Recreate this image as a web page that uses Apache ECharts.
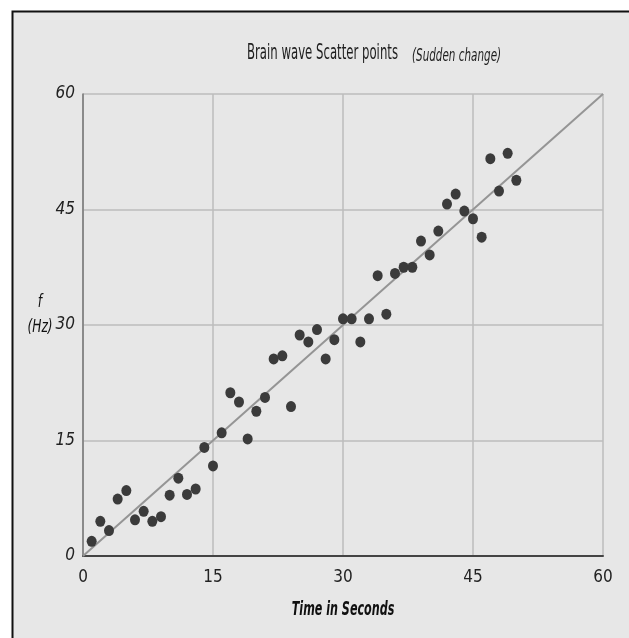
<!DOCTYPE html>
<html><head><meta charset="utf-8">
<script src="https://cdn.jsdelivr.net/npm/echarts@6/dist/echarts.min.js"></script>
<style>html,body{margin:0;padding:0;background:#fff}#c{width:629px;height:638px}</style>
</head><body><div id="c"></div>
<script>
const times = [1,2,3,4,5,6,7,8,9,10,11,12,13,14,15,16,17,18,19,20,21,22,23,24,25,26,27,28,29,30,31,32,33,34,35,36,37,38,39,40,41,42,43,44,45,46,47,48,49,50];
const freqs = [1.9,4.5,3.3,7.4,8.5,4.7,5.8,4.5,5.1,7.9,10.1,8.0,8.7,14.1,11.7,16.0,21.2,20.0,15.2,18.8,20.6,25.6,26.0,19.4,28.7,27.8,29.4,25.6,28.1,30.8,30.8,27.8,30.8,36.4,31.4,36.7,37.5,37.5,40.9,39.1,42.2,45.7,47.0,44.8,43.8,41.4,51.6,47.4,52.3,48.8];
const trendX = [0,60];
const trendY = [0,60];
const xTicks = [0,15,30,45,60];
const yTicks = [0,15,30,45,60];
const titleMain = 'Brain wave Scatter points';
const titleSub = '(Sudden change)';
const xName = 'Time in Seconds';
const yName = 'f\n(Hz)';

const cond = "'DejaVu Sans Condensed','DejaVu Sans',sans-serif";
const chart = echarts.init(document.getElementById('c'), null, {renderer:'canvas'});
chart.setOption({
  animation:false,
  backgroundColor:'#ffffff',
  graphic:[
    {type:'rect',z:-10,silent:true,shape:{x:12.5,y:11.5,width:620,height:630},style:{fill:'#e7e7e7',stroke:'#111',lineWidth:2}},
    {type:'text',x:247,y:54,scaleX:0.62,z:10,style:{text:titleMain,fontFamily:cond,fontSize:21,fill:'#1e1e1e',align:'left',verticalAlign:'middle'}},
    {type:'text',x:412,y:57,scaleX:0.68,z:10,style:{text:titleSub,fontFamily:cond,fontSize:17,fontStyle:'italic',fill:'#1e1e1e',align:'left',verticalAlign:'middle'}},
    {type:'text',x:343,y:610,scaleX:0.62,z:10,style:{text:xName,fontFamily:cond,fontSize:20,fontStyle:'italic',fontWeight:'bold',fill:'#111',align:'center',verticalAlign:'middle'}},
    {type:'text',x:40,y:315,scaleX:0.8,z:10,style:{text:yName,fontFamily:cond,fontSize:17,fontStyle:'italic',fill:'#111',lineHeight:25,align:'center',verticalAlign:'middle'}}
  ],
  grid:{left:83,right:26,top:94,bottom:82},
  xAxis:{
    type:'value',min:xTicks[0],max:xTicks[xTicks.length-1],interval:15,
    axisLine:{show:true,lineStyle:{color:'#444',width:2}},
    axisTick:{show:false},
    axisLabel:{fontFamily:cond,fontSize:17,color:'#222',margin:13},
    splitLine:{show:true,lineStyle:{color:'#bdbdbd',width:1.5}}
  },
  yAxis:{
    type:'value',min:yTicks[0],max:yTicks[yTicks.length-1],interval:15,
    axisLine:{show:true,lineStyle:{color:'#777',width:1.5}},
    axisTick:{show:false},
    axisLabel:{fontFamily:cond,fontSize:17,fontStyle:'italic',color:'#222',margin:8},
    splitLine:{show:true,lineStyle:{color:'#bdbdbd',width:1.5}}
  },
  series:[
    {type:'line',data:trendX.map((x,i)=>[x,trendY[i]]),symbol:'none',z:1,
     lineStyle:{color:'#959595',width:2},silent:true},
    {type:'scatter',data:times.map((t,i)=>[t,freqs[i]]),symbol:'circle',symbolSize:[10,11],z:3,
     itemStyle:{color:'#3b3b3b',opacity:1}}
  ]
});
</script></body></html>
